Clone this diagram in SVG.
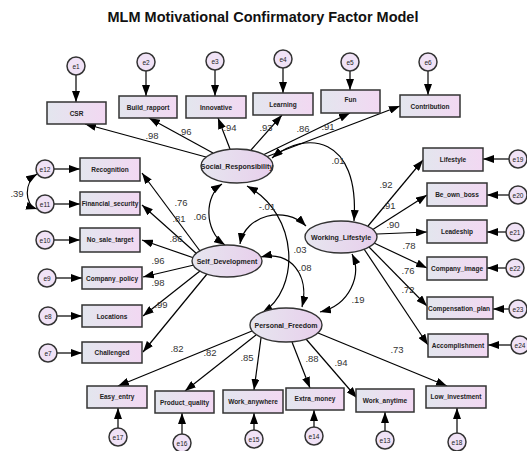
<svg xmlns="http://www.w3.org/2000/svg" width="527" height="451" viewBox="0 0 527 451">
<defs>
<linearGradient id="gb" x1="0" y1="0" x2="1" y2="0"><stop offset="0" stop-color="#e3e6ee"/><stop offset="1" stop-color="#f2d8f2"/></linearGradient>
<linearGradient id="ge" x1="0" y1="0" x2="1" y2="0"><stop offset="0" stop-color="#e6e6ef"/><stop offset="1" stop-color="#e8cfec"/></linearGradient>
<marker id="a" markerUnits="userSpaceOnUse" markerWidth="12" markerHeight="8" refX="11" refY="4" orient="auto-start-reverse"><path d="M0,0 L11,4 L0,8 z" fill="#000"/></marker>
<style>
.b{fill:url(#gb);stroke:#333;stroke-width:1.5}
.l{fill:url(#ge);stroke:#333;stroke-width:1.4}
.e{fill:#f0e2f6;stroke:#333;stroke-width:1.5}
.t{font-family:"Liberation Sans",Arial,sans-serif;font-size:6.5px;font-weight:bold;fill:#222;text-anchor:middle}
.lt{font-family:"Liberation Sans",Arial,sans-serif;font-size:7px;font-weight:bold;fill:#222;text-anchor:middle}
.et{font-family:"Liberation Sans",Arial,sans-serif;font-size:6.5px;fill:#222;text-anchor:middle}
.n{font-family:"Liberation Sans",Arial,sans-serif;font-size:9.5px;fill:#333;text-anchor:middle}
.c line,.c path{stroke:#000;stroke-width:1.2;fill:none;marker-end:url(#a)}
.c .d{marker-start:url(#a)}
</style>
</defs>
<rect width="527" height="451" fill="#fff"/>
<text x="263" y="22" font-family="Liberation Sans,Arial,sans-serif" font-size="14.5" font-weight="bold" text-anchor="middle" fill="#111">MLM Motivational Confirmatory Factor Model</text>

<g id="connectors" class="c">
<line x1="206" y1="157" x2="85" y2="124"/>
<line x1="213" y1="153" x2="149" y2="118"/>
<line x1="230" y1="149" x2="218" y2="118"/>
<line x1="251" y1="150" x2="282" y2="115"/>
<line x1="263" y1="155" x2="350" y2="113"/>
<line x1="266" y1="157" x2="400" y2="106"/>
<line x1="200" y1="251" x2="142" y2="173"/>
<line x1="197" y1="254" x2="142" y2="205"/>
<line x1="194" y1="258" x2="142" y2="240"/>
<line x1="194" y1="265" x2="143" y2="277"/>
<line x1="200" y1="271" x2="143" y2="316"/>
<line x1="207" y1="274" x2="143" y2="352"/>
<line x1="368" y1="226" x2="423" y2="160"/>
<line x1="372" y1="230" x2="427" y2="195"/>
<line x1="377" y1="234" x2="427" y2="232"/>
<line x1="374" y1="243" x2="427" y2="268"/>
<line x1="369" y1="247" x2="427" y2="306"/>
<line x1="364" y1="249" x2="428" y2="345"/>
<line x1="252" y1="331" x2="118" y2="386"/>
<line x1="256" y1="335" x2="185" y2="391"/>
<line x1="261" y1="338" x2="254" y2="390"/>
<line x1="292" y1="342" x2="310" y2="388"/>
<line x1="306" y1="339" x2="357" y2="398"/>
<line x1="318" y1="333" x2="447" y2="386"/>
<line x1="76" y1="75" x2="76" y2="102"/>
<line x1="146" y1="71" x2="146" y2="96"/>
<line x1="215" y1="70" x2="215" y2="96"/>
<line x1="283" y1="68" x2="283" y2="93"/>
<line x1="350" y1="71" x2="350" y2="90"/>
<line x1="428" y1="71" x2="428" y2="95"/>
<line x1="54" y1="169" x2="80" y2="169"/>
<line x1="54" y1="204" x2="80" y2="204"/>
<line x1="54" y1="240" x2="80" y2="240"/>
<line x1="56" y1="278" x2="82" y2="278"/>
<line x1="57" y1="316" x2="82" y2="316"/>
<line x1="57" y1="353" x2="82" y2="353"/>
<line x1="509" y1="159" x2="483" y2="159"/>
<line x1="509" y1="195" x2="487" y2="195"/>
<line x1="506" y1="232" x2="487" y2="232"/>
<line x1="506" y1="268" x2="487" y2="268"/>
<line x1="509" y1="309" x2="493" y2="309"/>
<line x1="511" y1="345" x2="488" y2="345"/>
<line x1="118" y1="428" x2="118" y2="408"/>
<line x1="182" y1="434" x2="182" y2="413"/>
<line x1="254" y1="430" x2="254" y2="413"/>
<line x1="314" y1="427" x2="314" y2="410"/>
<line x1="385" y1="431" x2="385" y2="412"/>
<line x1="457" y1="433" x2="457" y2="408"/>
<path class="d" d="M272,158 C305,130 360,135 354,221"/>
<path class="d" d="M222,184 C205,195 203,230 225,245"/>
<path class="d" d="M247,186 C300,215 300,290 262,313"/>
<path class="d" d="M240,244 C245,215 285,205 306,226"/>
<path class="d" d="M261,257 C290,250 310,275 302,307"/>
<path class="d" d="M352,254 C362,275 350,305 320,312"/>
<path class="d" d="M37,174 C24,182 24,205 37,209"/>
</g>

<g id="labels">
<text class="n" x="152" y="139">.98</text>
<text class="n" x="185" y="135">.96</text>
<text class="n" x="230" y="131">.94</text>
<text class="n" x="266" y="131">.93</text>
<text class="n" x="303" y="132">.86</text>
<text class="n" x="328" y="130">.91</text>
<text class="n" x="181" y="206">.76</text>
<text class="n" x="179" y="222">.81</text>
<text class="n" x="176" y="242">.86</text>
<text class="n" x="158" y="264">.96</text>
<text class="n" x="158" y="286">.98</text>
<text class="n" x="161" y="308">.99</text>
<text class="n" x="386" y="188">.92</text>
<text class="n" x="389" y="209">.91</text>
<text class="n" x="393" y="228">.90</text>
<text class="n" x="409" y="249">.78</text>
<text class="n" x="408" y="274">.76</text>
<text class="n" x="408" y="293">.72</text>
<text class="n" x="177" y="352">.82</text>
<text class="n" x="210" y="356">.82</text>
<text class="n" x="247" y="361">.85</text>
<text class="n" x="312" y="362">.88</text>
<text class="n" x="341" y="366">.94</text>
<text class="n" x="397" y="353">.73</text>
<text class="n" x="338" y="164">.01</text>
<text class="n" x="200" y="220">.06</text>
<text class="n" x="267" y="210">-.01</text>
<text class="n" x="300" y="253">.03</text>
<text class="n" x="305" y="271">.08</text>
<text class="n" x="358" y="303">.19</text>
<text class="n" x="17" y="197">.39</text>
</g>

<g id="Social_Responsibility"><ellipse class="l" cx="237" cy="166" rx="36" ry="17"/><text class="lt" x="237" y="168.5">Social_Responsibility</text></g>
<g id="Working_Lifestyle"><ellipse class="l" cx="341" cy="237" rx="36" ry="16"/><text class="lt" x="341" y="239.5">Working_Lifestyle</text></g>
<g id="Self_Development"><ellipse class="l" cx="227" cy="261" rx="35" ry="16"/><text class="lt" x="227" y="263.5">Self_Development</text></g>
<g id="Personal_Freedom"><ellipse class="l" cx="286" cy="325" rx="36" ry="17"/><text class="lt" x="286" y="327.5">Personal_Freedom</text></g>

<g id="CSR"><rect class="b" x="47" y="102" width="59" height="22"/><text class="t" x="76.5" y="115.5">CSR</text></g>
<g id="Build_rapport"><rect class="b" x="119" y="96" width="58" height="22"/><text class="t" x="148" y="109.5">Build_rapport</text></g>
<g id="Innovative"><rect class="b" x="186" y="96" width="60" height="22"/><text class="t" x="216" y="109.5">Innovative</text></g>
<g id="Learning"><rect class="b" x="253" y="93" width="60" height="22"/><text class="t" x="283" y="106.5">Learning</text></g>
<g id="Fun"><rect class="b" x="321" y="90" width="59" height="23"/><text class="t" x="350.5" y="102">Fun</text></g>
<g id="Contribution"><rect class="b" x="400" y="95" width="60" height="22"/><text class="t" x="430" y="108.5">Contribution</text></g>
<g id="Recognition"><rect class="b" x="80" y="158" width="60" height="23"/><text class="t" x="110" y="171.5">Recognition</text></g>
<g id="Financial_security"><rect class="b" x="80" y="192" width="60" height="23"/><text class="t" x="110" y="205.5">Financial_security</text></g>
<g id="No_sale_target"><rect class="b" x="80" y="228" width="60" height="24"/><text class="t" x="110" y="242">No_sale_target</text></g>
<g id="Company_policy"><rect class="b" x="82" y="267" width="60" height="22"/><text class="t" x="112" y="280.5">Company_policy</text></g>
<g id="Locations"><rect class="b" x="82" y="305" width="60" height="22"/><text class="t" x="112" y="318.5">Locations</text></g>
<g id="Challenged"><rect class="b" x="82" y="342" width="60" height="21"/><text class="t" x="112" y="355">Challenged</text></g>
<g id="Lifestyle"><rect class="b" x="423" y="148" width="60" height="23"/><text class="t" x="453" y="161.5">Lifestyle</text></g>
<g id="Be_own_boss"><rect class="b" x="427" y="183" width="60" height="23"/><text class="t" x="457" y="196.5">Be_own_boss</text></g>
<g id="Leadeship"><rect class="b" x="427" y="220" width="60" height="23"/><text class="t" x="457" y="233.5">Leadeship</text></g>
<g id="Company_image"><rect class="b" x="427" y="257" width="60" height="23"/><text class="t" x="457" y="270.5">Company_image</text></g>
<g id="Compensation_plan"><rect class="b" x="427" y="297" width="66" height="22"/><text class="t" x="459" y="310.5">Compensation_plan</text></g>
<g id="Accomplishment"><rect class="b" x="428" y="334" width="60" height="23"/><text class="t" x="458" y="347.5">Accomplishment</text></g>
<g id="Easy_entry"><rect class="b" x="87" y="386" width="60" height="22"/><text class="t" x="117" y="399">Easy_entry</text></g>
<g id="Product_quality"><rect class="b" x="155" y="391" width="59" height="22"/><text class="t" x="184.5" y="404.5">Product_quality</text></g>
<g id="Work_anywhere"><rect class="b" x="223" y="390" width="60" height="23"/><text class="t" x="253" y="403.5">Work_anywhere</text></g>
<g id="Extra_money"><rect class="b" x="286" y="388" width="58" height="22"/><text class="t" x="315" y="400.5">Extra_money</text></g>
<g id="Work_anytime"><rect class="b" x="356" y="389" width="58" height="23"/><text class="t" x="385" y="402.5">Work_anytime</text></g>
<g id="Low_investment"><rect class="b" x="426" y="386" width="60" height="22"/><text class="t" x="456" y="399">Low_investment</text></g>

<g id="e1"><circle class="e" cx="76" cy="66" r="9"/><text class="et" x="76" y="68.5">e1</text></g>
<g id="e2"><circle class="e" cx="146" cy="62" r="9"/><text class="et" x="146" y="64.5">e2</text></g>
<g id="e3"><circle class="e" cx="215" cy="61" r="9"/><text class="et" x="215" y="63.5">e3</text></g>
<g id="e4"><circle class="e" cx="283" cy="59" r="9"/><text class="et" x="283" y="61.5">e4</text></g>
<g id="e5"><circle class="e" cx="350" cy="62" r="9"/><text class="et" x="350" y="64.5">e5</text></g>
<g id="e6"><circle class="e" cx="428" cy="62" r="9"/><text class="et" x="428" y="64.5">e6</text></g>
<g id="e12"><circle class="e" cx="45" cy="169" r="9"/><text class="et" x="45" y="171.5">e12</text></g>
<g id="e11"><circle class="e" cx="45" cy="204" r="9"/><text class="et" x="45" y="206.5">e11</text></g>
<g id="e10"><circle class="e" cx="45" cy="240" r="9"/><text class="et" x="45" y="242.5">e10</text></g>
<g id="e9"><circle class="e" cx="47" cy="278" r="9"/><text class="et" x="47" y="280.5">e9</text></g>
<g id="e8"><circle class="e" cx="48" cy="316" r="9"/><text class="et" x="48" y="318.5">e8</text></g>
<g id="e7"><circle class="e" cx="48" cy="353" r="9"/><text class="et" x="48" y="355.5">e7</text></g>
<g id="e19"><circle class="e" cx="518" cy="159" r="9"/><text class="et" x="518" y="161.5">e19</text></g>
<g id="e20"><circle class="e" cx="518" cy="195" r="9"/><text class="et" x="518" y="197.5">e20</text></g>
<g id="e21"><circle class="e" cx="515" cy="232" r="9"/><text class="et" x="515" y="234.5">e21</text></g>
<g id="e22"><circle class="e" cx="515" cy="268" r="9"/><text class="et" x="515" y="270.5">e22</text></g>
<g id="e23"><circle class="e" cx="518" cy="309" r="9"/><text class="et" x="518" y="311.5">e23</text></g>
<g id="e24"><circle class="e" cx="520" cy="345" r="9"/><text class="et" x="520" y="347.5">e24</text></g>
<g id="e17"><circle class="e" cx="118" cy="437" r="9"/><text class="et" x="118" y="439.5">e17</text></g>
<g id="e16"><circle class="e" cx="182" cy="443" r="9"/><text class="et" x="182" y="445.5">e16</text></g>
<g id="e15"><circle class="e" cx="254" cy="439" r="9"/><text class="et" x="254" y="441.5">e15</text></g>
<g id="e14"><circle class="e" cx="314" cy="436" r="9"/><text class="et" x="314" y="438.5">e14</text></g>
<g id="e13"><circle class="e" cx="385" cy="440" r="9"/><text class="et" x="385" y="442.5">e13</text></g>
<g id="e18"><circle class="e" cx="457" cy="442" r="9"/><text class="et" x="457" y="444.5">e18</text></g>
</svg>
